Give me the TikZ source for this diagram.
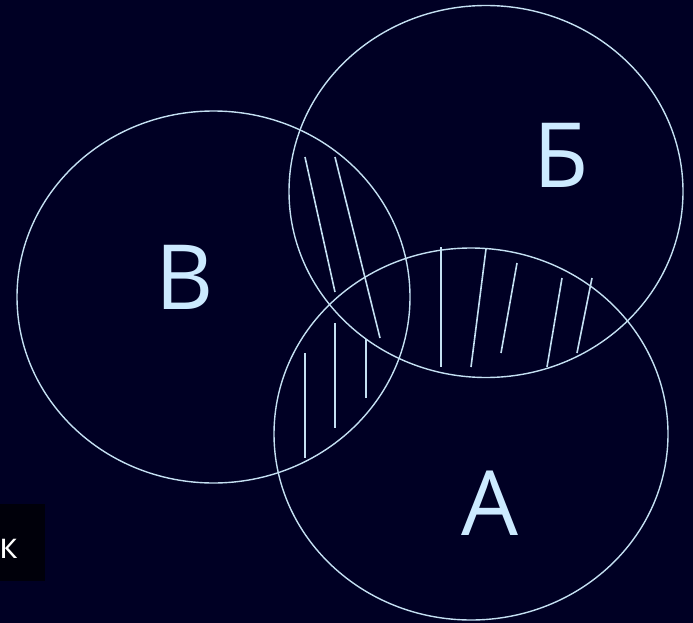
\documentclass[tikz,border=0pt]{standalone}
\usepackage{fontspec}
\setmainfont{Open Sans}
\usetikzlibrary{positioning}
\definecolor{bgnavy}{RGB}{0,0,36}
\definecolor{boxblack}{RGB}{0,0,10}
\definecolor{rimblue}{RGB}{196,224,242}
\definecolor{letterblue}{RGB}{204,234,255}
\tikzset{
  rim/.style    ={draw=rimblue, line width=1.4pt},
  hatch/.style  ={draw=rimblue, line width=1.6pt},
  setname/.style={text=letterblue, inner sep=0pt, font=\fontsize{90}{90}\selectfont},
  tail/.style   ={text=white, inner sep=0pt, font=\fontsize{36}{36}\selectfont},
}

\begin{document}
\begin{tikzpicture}[x=1pt, y=-1pt]
  \useasboundingbox (0,0) rectangle (693,623);
  \clip (0,0) rectangle (693,623);
  \fill[bgnavy] (0,0) rectangle (693,623);
  \fill[boxblack] (0,504) rectangle (45,581);
  \node[tail, anchor=base west] (tailk) at (-1,558) {к};

  \draw[rim] (213.5,297) ellipse [x radius=196.5, y radius=186];
  \draw[rim] (486,191.5) ellipse [x radius=197, y radius=186];
  \draw[rim] (471,434) ellipse [x radius=197, y radius=186];

  \draw[hatch] (305,157) -- (335,292);
  \draw[hatch] (335,157) -- (380,338);

  \draw[hatch] (305,353) -- (305,458);
  \draw[hatch] (335,323) -- (335,428);
  \draw[hatch] (366,339) -- (366,398);

  \draw[hatch] (441,247) -- (441,367);
  \draw[hatch] (486,249) -- (471,367);
  \draw[hatch] (517,263) -- (501,353);
  \draw[hatch] (562,278) -- (547,367);
  \draw[hatch] (592,278) -- (577,353);

  \node[setname, anchor=base] (setV) at (185,309) {В};
  \node[setname, anchor=base] (setB) at (561,187) {Б};
  \node[setname, anchor=base] (setA) at (490,535) {А};
\end{tikzpicture}
\end{document}
